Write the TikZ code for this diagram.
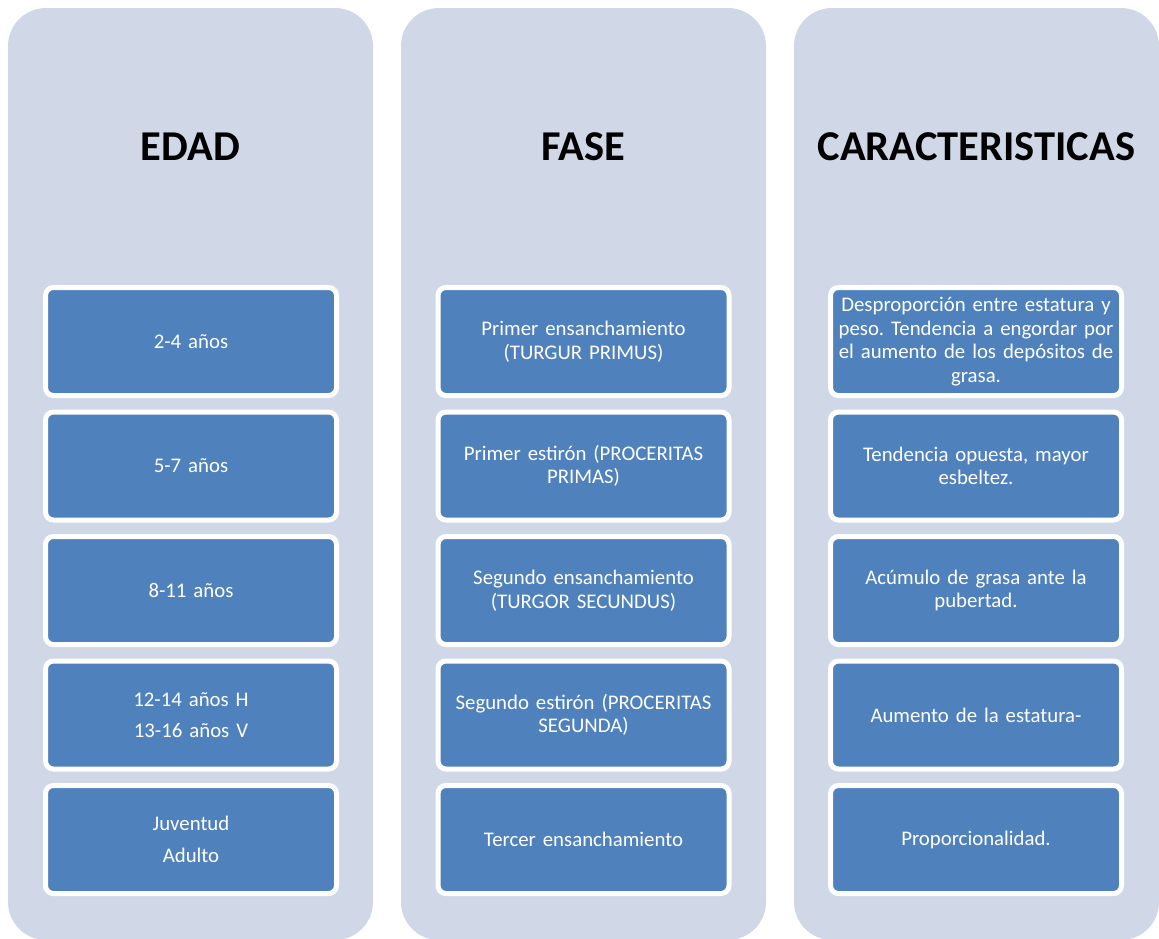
\documentclass[tikz,border=0pt]{standalone}
\usepackage{fontspec}
\setmainfont{Carlito}
\frenchspacing
\definecolor{colbg}{HTML}{D0D8E8}
\definecolor{boxblue}{HTML}{4F81BD}
\tikzset{
  colpanel/.style={fill=colbg, draw=none, rounded corners=38pt, minimum width=365pt, minimum height=932pt, inner sep=0pt},
  coltitle/.style={font=\fontsize{42.5}{50}\selectfont\bfseries, text=black, inner sep=0pt},
  itembox/.style={fill=boxblue, draw=white, line width=5pt, rounded corners=8pt, minimum width=291pt, minimum height=108pt, text=white, align=center, text width=290pt, inner sep=0pt, font=\fontsize{20.8}{23.5}\selectfont},
}
\begin{document}
\begin{tikzpicture}[x=1pt,y=-1pt]
\useasboundingbox (0,0) rectangle (1159,938);
\node[colpanel] (p1) at (190.5,474) {};
\node[colpanel] (p2) at (583.5,474) {};
\node[colpanel] (p3) at (976.5,474) {};
\node[coltitle] (t1) at (190.5,147) {EDAD};
\node[coltitle] (t2) at (583.5,147) {FASE};
\node[coltitle] (t3) at (976.5,147) {CARACTERISTICAS};
% column 1
\node[itembox] (a1) at (191,341.5) {2-4 años};
\node[itembox] (a2) at (191,466) {5-7 años};
\node[itembox] (a3) at (191,590.5) {8-11 años};
\node[itembox] (a4) at (191,715) {12-14 años H\\[8pt]13-16 años V};
\node[itembox] (a5) at (191,839.5) {Juventud\\[8pt]Adulto};
% column 2
\node[itembox] (b1) at (583.5,341.5) {Primer ensanchamiento\\(TURGUR PRIMUS)};
\node[itembox] (b2) at (583.5,466) {Primer estirón (PROCERITAS\\PRIMAS)};
\node[itembox] (b3) at (583.5,590.5) {Segundo ensanchamiento\\(TURGOR SECUNDUS)};
\node[itembox] (b4) at (583.5,715) {Segundo estirón (PROCERITAS\\SEGUNDA)};
\node[itembox] (b5) at (583.5,839.5) {Tercer ensanchamiento};
% column 3
\node[itembox] (c1) at (976,341.5) {Desproporción entre estatura y\\peso. Tendencia a engordar por\\el aumento de los depósitos de\\grasa.};
\node[itembox] (c2) at (976,466) {Tendencia opuesta, mayor\\esbeltez.};
\node[itembox] (c3) at (976,590.5) {Acúmulo de grasa ante la\\pubertad.};
\node[itembox] (c4) at (976,715) {Aumento de la estatura-};
\node[itembox] (c5) at (976,839.5) {Proporcionalidad.};
\end{tikzpicture}
\end{document}
